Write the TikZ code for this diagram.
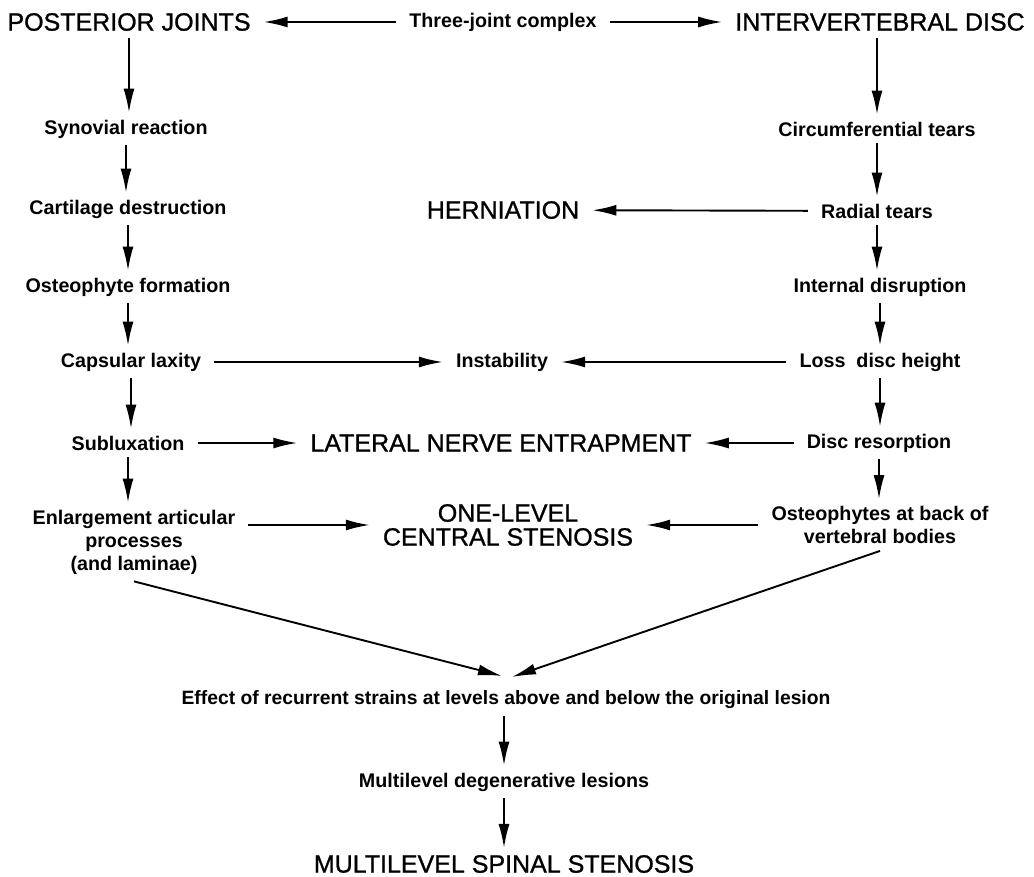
\documentclass[tikz,border=0pt]{standalone}
\usepackage{fontspec}
\setmainfont{Liberation Sans}
\newfontfamily\bigfam[FakeBold=1]{Liberation Sans}
\usetikzlibrary{arrows.meta}
\begin{document}
\begin{tikzpicture}[x=1pt,y=-1pt,
  lab/.style={font=\bfseries\fontsize{19.7}{23}\selectfont, inner xsep=13pt, inner ysep=7pt, align=center},
  big/.style={font=\bigfam\fontsize{25}{24}\selectfont, inner xsep=13pt, inner ysep=7pt, align=center},
  arr/.style={-{Latex[length=24pt,width=11pt]}, line width=1.9pt}]
\useasboundingbox (0,0) rectangle (1034,877);
% top row
\node[big] (pj) at (129,22) {POSTERIOR JOINTS};
\node[lab] (tj) at (503,22) {Three-joint complex};
\node[big] (id) at (880,22) {INTERVERTEBRAL DISC};
% left column
\node[lab] (syn) at (126,129) {Synovial reaction};
\node[lab] (car) at (128,209) {Cartilage destruction};
\node[lab] (ost) at (128,287) {Osteophyte formation};
\node[lab] (cap) at (131,362) {Capsular laxity};
\node[lab] (sub) at (128,443) {Subluxation};
\node[lab] (enl) at (134,542) {Enlargement articular\\processes\\(and laminae)};
% right column
\node[lab] (cir) at (877,129) {Circumferential tears};
\node[lab] (rad) at (877,211) {Radial tears};
\node[lab] (intd) at (880,287) {Internal disruption};
\node[lab] (loss) at (880,362) {Loss\ \ disc height};
\node[lab] (dres) at (879,443) {Disc resorption};
\node[lab] (ostb) at (880,525) {Osteophytes at back of\\vertebral bodies};
% middle
\node[big] (her) at (503,210) {HERNIATION};
\node[lab] (inst) at (502,362) {Instability};
\node[big] (lat) at (501,443) {LATERAL NERVE ENTRAPMENT};
\node[big] (one) at (508,525) {ONE-LEVEL\\CENTRAL STENOSIS};
\node[lab, font=\bfseries\fontsize{19.3}{23}\selectfont] (eff) at (506,700) {Effect of recurrent strains at levels above and below the original lesion};
\node[lab] (mul) at (504,782) {Multilevel degenerative lesions};
\node[big] (mss) at (504,864) {MULTILEVEL SPINAL STENOSIS};
\coordinate (ml) at (502,676);
\coordinate (mr) at (512,677);
% arrows top
\draw[arr] (tj) -- (pj);
\draw[arr] (tj) -- (id);
% left column arrows
\draw[arr] (pj.south) -- (pj.south |- syn.north);
\draw[arr] (syn.south) -- (syn.south |- car.north);
\draw[arr] (car.south) -- (car.south |- ost.north);
\draw[arr] (ost.south) -- (ost.south |- cap.north);
\draw[arr] (cap.south) -- (cap.south |- sub.north);
\draw[arr] (sub.south) -- (sub.south |- enl.north);
% right column arrows
\draw[arr] (id.south -| cir) -- (cir.north);
\draw[arr] (cir.south) -- (cir.south |- rad.north);
\draw[arr] (rad.south) -- (rad.south |- intd.north);
\draw[arr] (intd.south) -- (intd.south |- loss.north);
\draw[arr] (loss.south) -- (loss.south |- dres.north);
\draw[arr] (dres.south) -- (dres.south |- ostb.north);
% horizontal arrows
\draw[arr] (rad) -- (her);
\draw[arr] (cap) -- (inst);
\draw[arr] (loss) -- (inst);
\draw[arr] (sub) -- (lat);
\draw[arr] (dres) -- (lat);
\draw[arr] (enl.east |- one.west) -- (one.west);
\draw[arr] (ostb.west) -- (one.east);
% diagonals
\draw[arr] (enl.south) -- (ml);
\draw[arr] (ostb.south) -- (mr);
% bottom
\draw[arr] (eff.south -| mul) -- (mul.north);
\draw[arr] (mul) -- (mss);
\end{tikzpicture}
\end{document}
